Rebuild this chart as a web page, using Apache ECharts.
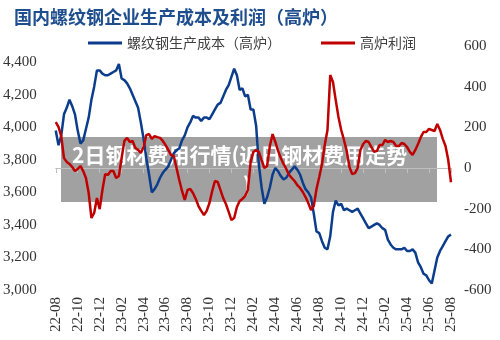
<!DOCTYPE html>
<html>
<head>
<meta charset="utf-8">
<script src="https://cdn.jsdelivr.net/npm/echarts@6/dist/echarts.min.js"></script>
<style>
  html, body { margin: 0; padding: 0; background: #fff; }
  #chart { width: 500px; height: 340px; }
</style>
</head>
<body>
<div id="chart"></div>
<script>
// Weekly samples from 2022-08 to 2025-08 (4 samples per month)
const samplesPerMonth = 4;

// Month tick labels, one every two months
const tickLabels = ['22-08','22-10','22-12','23-02','23-04','23-06','23-08','23-10','23-12',
  '24-02','24-04','24-06','24-08','24-10','24-12','25-02','25-04','25-06','25-08'];

const costName = '螺纹钢生产成本（高炉）';
const profitName = '高炉利润';

// Rebar production cost, blast furnace (yuan/t), left axis
const costValues = [
  3980, 3890, 3950, 4080, 4120, 4170, 4130, 4080, 3980, 3900,
  3920, 3990, 4060, 4170, 4250, 4350, 4350, 4330, 4320, 4320,
  4330, 4340, 4350, 4390, 4300, 4290, 4270, 4240, 4200, 4160,
  4120, 4030, 3930, 3810, 3710, 3600, 3620, 3650, 3690, 3720,
  3740, 3760, 3800, 3840, 3860, 3870, 3920, 3950, 4000, 4030,
  4070, 4060, 4060, 4040, 4060, 4060, 4050, 4080, 4110, 4140,
  4150, 4190, 4230, 4260, 4310, 4360, 4320, 4230, 4240, 4190,
  4200, 4110, 4110, 4010, 3770, 3630, 3530, 3570, 3630, 3710,
  3750, 3730, 3700, 3680, 3690, 3720, 3740, 3760, 3740, 3710,
  3660, 3620, 3600, 3570, 3470, 3360, 3350, 3300, 3260, 3250,
  3330, 3480, 3550, 3520, 3530, 3490, 3500, 3490, 3480, 3490,
  3500, 3470, 3440, 3410, 3380, 3390, 3400, 3410, 3400, 3380,
  3370, 3310, 3280, 3260, 3250, 3250, 3250, 3260, 3240, 3240,
  3250, 3230, 3170, 3140, 3100, 3090, 3060, 3040, 3120, 3200,
  3240, 3270, 3300, 3330, 3340
];

// Blast furnace profit (yuan/t), right axis
const profitValues = [
  226, 202, 157, 49, 30, 20, 5, -15, -5, 10,
  -15, -49, -123, -246, -221, -148, -202, -108, -30, -34,
  -15, -15, -49, -39, 49, 133, 148, 128, 133, 98,
  89, 74, 103, 162, 167, 143, 157, 152, 148, 133,
  113, 89, 64, 59, 0, -59, -113, -157, -108, -103,
  -123, -152, -187, -211, -231, -211, -172, -113, -64, -69,
  -108, -148, -177, -216, -256, -246, -192, -162, -152, -138,
  -108, 30, 79, 89, 79, 39, 0, 10, 108, 167,
  128, 84, 49, 20, -5, -34, -49, -64, -84, -98,
  -118, -143, -172, -207, -187, -103, -44, 20, 113, 187,
  457, 423, 334, 251, 187, 138, 84, 5, -30, -25,
  0, 89, 118, 133, 128, 103, 79, 84, 113, 113,
  138, 128, 133, 128, 108, 108, 123, 118, 103, 79,
  64, 89, 118, 152, 177, 177, 192, 187, 182, 216,
  187, 143, 108, 39, -70
];

const toPoints = vals => vals.map((v, i) => [i / samplesPerMonth, v]);

const axisFont = 'Liberation Serif';
const labelColor = '#333';

const chart = echarts.init(document.getElementById('chart'), null, { renderer: 'canvas' });

chart.setOption({
  animation: false,
  backgroundColor: '#fff',
  title: {
    text: '国内螺纹钢企业生产成本及利润（高炉）',
    left: 14, top: 8, padding: 0,
    textStyle: { fontSize: 18, fontWeight: 'bold', color: '#1f4e8f', fontFamily: 'Noto Sans CJK SC' }
  },
  legend: {
    left: 88, top: 36, padding: 0,
    itemWidth: 34, itemHeight: 3, itemGap: 40,
    icon: 'rect',
    textStyle: { fontSize: 14, color: '#404040', fontFamily: 'Noto Sans CJK SC' },
    data: [costName, profitName]
  },
  grid: { left: 54, right: 49, top: 46, bottom: 50 },
  xAxis: {
    type: 'value', min: 0, max: 36, interval: 2,
    axisLine: { show: true, lineStyle: { color: '#bfbfbf', width: 1 } },
    axisTick: { show: true, length: 5, lineStyle: { color: '#bfbfbf' } },
    splitLine: { show: false },
    axisLabel: {
      rotate: 90, margin: 7,
      fontSize: 15, fontFamily: axisFont, color: labelColor,
      formatter: v => tickLabels[Math.round(v / 2)] || ''
    }
  },
  yAxis: [
    {
      type: 'value', min: 3000, max: 4500, interval: 200, position: 'left',
      axisLine: { show: false }, axisTick: { show: false }, splitLine: { show: false },
      axisLabel: {
        margin: 19, showMaxLabel: false,
        fontSize: 15, fontFamily: axisFont, color: labelColor,
        formatter: v => v.toLocaleString('en-US')
      }
    },
    {
      type: 'value', min: -600, max: 600, interval: 200, position: 'right',
      axisLine: { show: false }, axisTick: { show: false }, splitLine: { show: false },
      axisLabel: {
        margin: 13,
        fontSize: 15, fontFamily: axisFont, color: labelColor
      }
    }
  ],
  series: [
    {
      name: costName, type: 'line', yAxisIndex: 0,
      data: toPoints(costValues),
      showSymbol: false, symbol: 'none',
      lineStyle: { color: '#0c3d8d', width: 2.5 },
      itemStyle: { color: '#0c3d8d' },
      z: 2
    },
    {
      name: profitName, type: 'line', yAxisIndex: 1,
      data: toPoints(profitValues),
      showSymbol: false, symbol: 'none',
      lineStyle: { color: '#c00000', width: 2.5 },
      itemStyle: { color: '#c00000' },
      z: 3
    }
  ],
  graphic: [
    {
      type: 'group', z: 100,
      children: [
        {
          type: 'rect',
          shape: { x: 61, y: 137, width: 376, height: 65 },
          style: { fill: 'rgba(0,0,0,0.37)' }
        },
        {
          type: 'text',
          style: {
            text: '2日钢材费用行情(近日钢材费用走势',
            x: 72, y: 155, align: 'left', verticalAlign: 'middle',
            fill: '#fff', fontSize: 21, fontWeight: 'bold', fontFamily: 'Noto Sans CJK SC'
          }
        },
        {
          type: 'text',
          style: {
            text: ')',
            x: 247, y: 185, align: 'center', verticalAlign: 'middle',
            fill: '#fff', fontSize: 21, fontWeight: 'bold', fontFamily: 'Noto Sans CJK SC'
          }
        }
      ]
    }
  ]
});
</script>
</body>
</html>
